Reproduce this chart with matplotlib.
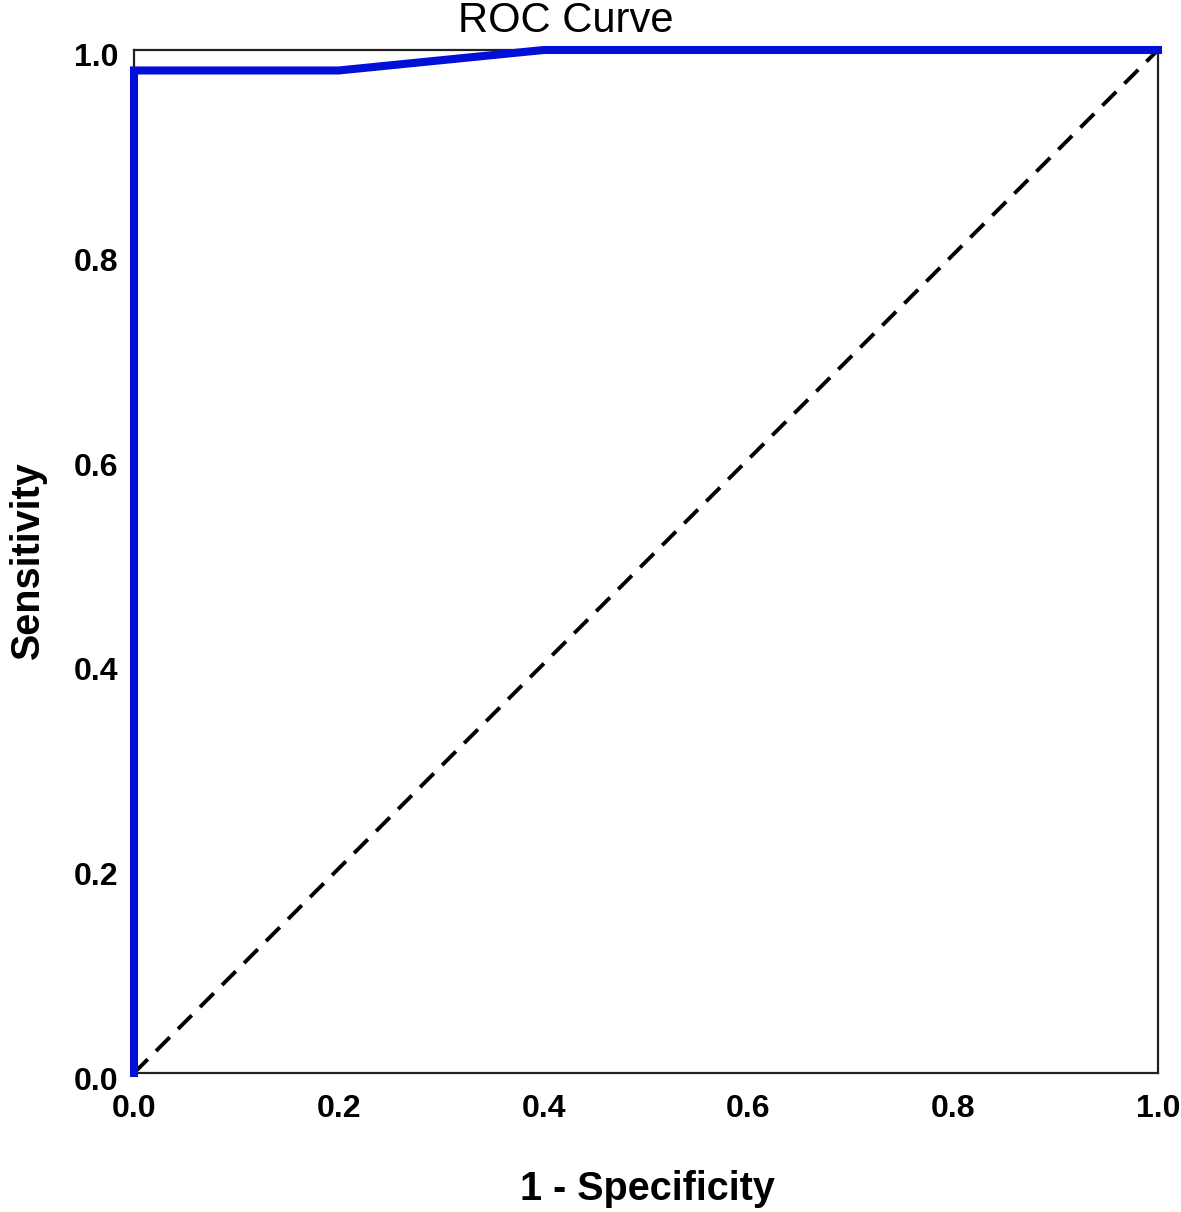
import matplotlib.pyplot as plt
import matplotlib.transforms as mtransforms
import numpy as np

# ROC points (1 - specificity, sensitivity)
fpr = [0.0, 0.0, 0.2, 0.4, 1.0]
tpr = [0.0, 0.98, 0.98, 1.0, 1.0]
ref_line = [0.0, 1.0]
ticks = [0.0, 0.2, 0.4, 0.6, 0.8, 1.0]
tick_labels = ["0.0", "0.2", "0.4", "0.6", "0.8", "1.0"]

W, H = 1181, 1212
fig = plt.figure(figsize=(W / 100, H / 100), dpi=100)
plt.rcParams["font.family"] = ["Liberation Sans", "DejaVu Sans"]

left, right, top, bottom = 134, 1158, 50, 1073
ax = fig.add_axes([left / W, 1 - bottom / H, (right - left) / W, (bottom - top) / H])

# diagonal reference line
ax.plot(ref_line, ref_line, color="black", linestyle=(0, (5, 3)), linewidth=2.8, zorder=2)
# ROC curve
ax.plot(fpr, tpr, color="#0010d8", linewidth=5.8, solid_joinstyle="miter", zorder=3, clip_on=False)

ax.set_xlim(0, 1)
ax.set_ylim(0, 1)
ax.set_xticks(ticks)
ax.set_yticks(ticks)
ax.set_xticklabels(tick_labels, fontsize=23, fontweight="bold")
ax.set_yticklabels(tick_labels, fontsize=23, fontweight="bold")
ax.tick_params(axis="x", length=0, pad=15)
ax.tick_params(axis="y", length=0, pad=11)
# y labels sit slightly below their tick position in the reference
shift = mtransforms.ScaledTranslation(0, -5 / 100, fig.dpi_scale_trans)
for lbl in ax.get_yticklabels():
    lbl.set_transform(lbl.get_transform() + shift)
for sp in ax.spines.values():
    sp.set_linewidth(1.6)
    sp.set_color("#222222")

fig.text(566 / W, 1 - 21 / H, "ROC Curve", fontsize=30, ha="center", va="center")
fig.text(647 / W, 1 - 1200 / H, "1 - Specificity", fontsize=28.5, fontweight="bold",
         ha="center", va="baseline")
fig.text(28 / W, 1 - 560 / H, "Sensitivity", fontsize=28.5, fontweight="bold",
         ha="center", va="center", rotation=90)

fig.savefig("out.png", dpi=100)
